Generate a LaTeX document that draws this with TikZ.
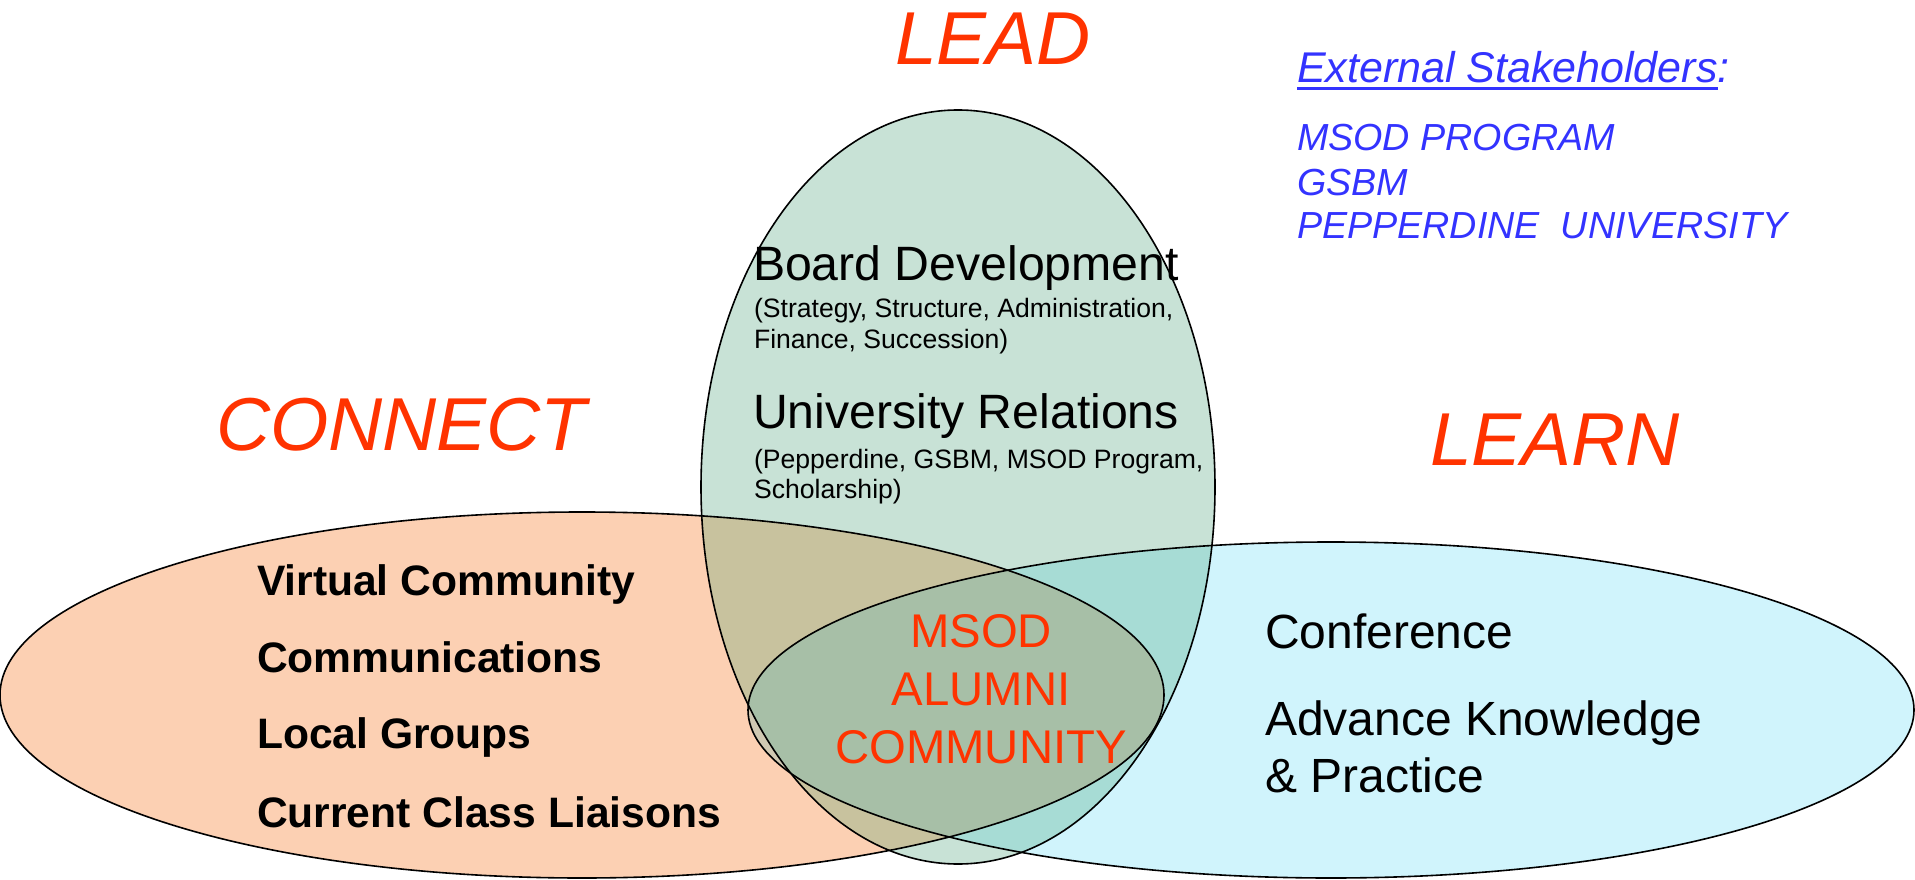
\documentclass[tikz,border=0pt]{standalone}
\usepackage{fontspec}
\setmainfont{Liberation Sans}
\definecolor{ocol}{HTML}{FCD0B3}
\definecolor{bcol}{HTML}{D0F4FC}
\definecolor{gcol}{HTML}{C8E2D6}
\definecolor{ogcol}{HTML}{C8C29E}
\definecolor{gbcol}{HTML}{A7DCD5}
\definecolor{obcol}{HTML}{D0C8B2}
\definecolor{ogbcol}{HTML}{A7BFA7}
\definecolor{lblred}{HTML}{FF3300}
\definecolor{stakeblue}{HTML}{3333FF}
\newcommand\myul[1]{\setbox0\hbox{#1}\rlap{\rule[-7.5pt]{\wd0}{3pt}}\box0}
\begin{document}
\begin{tikzpicture}[x=1pt,y=-1pt,
  outl/.style={draw=black,line width=1.6pt},
  txt/.style={inner sep=0pt,outer sep=0pt,anchor=base west},
  bigred/.style={txt,text=lblred,font=\fontsize{75}{80}\selectfont\itshape},
  head/.style={txt,font=\fontsize{48.2}{54}\selectfont},
  sub/.style={txt,font=\fontsize{26.6}{31}\selectfont},
  bolditem/.style={txt,font=\fontsize{42.6}{48}\selectfont\bfseries},
  learnitem/.style={txt,font=\fontsize{48}{54}\selectfont},
  center/.style={inner sep=0pt,outer sep=0pt,anchor=base,text=lblred,font=\fontsize{47.3}{54}\selectfont},
  stake/.style={txt,text=stakeblue,font=\fontsize{37.7}{42}\selectfont\itshape},
  stakehead/.style={txt,text=stakeblue,font=\fontsize{43}{48}\selectfont\itshape}]
\useasboundingbox (0,0) rectangle (1915,880);
% fills
\fill[ocol] (582,695) ellipse [x radius=582pt, y radius=183pt];
\fill[bcol] (1331,710) ellipse [x radius=583pt, y radius=168pt];
\fill[gcol] (958,487) ellipse [x radius=257pt, y radius=377pt];
\begin{scope}
  \clip (582,695) ellipse [x radius=582pt, y radius=183pt];
  \fill[obcol] (1331,710) ellipse [x radius=583pt, y radius=168pt];
  \fill[ogcol] (958,487) ellipse [x radius=257pt, y radius=377pt];
\end{scope}
\begin{scope}
  \clip (1331,710) ellipse [x radius=583pt, y radius=168pt];
  \fill[gbcol] (958,487) ellipse [x radius=257pt, y radius=377pt];
\end{scope}
\begin{scope}
  \clip (582,695) ellipse [x radius=582pt, y radius=183pt];
  \clip (1331,710) ellipse [x radius=583pt, y radius=168pt];
  \fill[ogbcol] (958,487) ellipse [x radius=257pt, y radius=377pt];
\end{scope}
% outlines
\draw[outl] (582,695) ellipse [x radius=582pt, y radius=183pt];
\draw[outl] (1331,710) ellipse [x radius=583pt, y radius=168pt];
\draw[outl] (958,487) ellipse [x radius=257pt, y radius=377pt];
% big labels
\node[bigred] (lead) at (895,65) {LEAD};
\node[bigred] (connect) at (216,450) {CONNECT};
\node[bigred] (learn) at (1430,465) {LEARN};
% stakeholders
\node[stakehead] (exthead) at (1297,83) {\myul{External Stakeholders}:};
\node[stake] (ext1) at (1297,151) {MSOD PROGRAM};
\node[stake] (ext2) at (1297,195) {GSBM};
\node[stake] (ext3) at (1297,238) {PEPPERDINE\ \ UNIVERSITY};
% lead
\node[head] (board) at (753,280) {Board Development};
\node[sub] (board1) at (754,317) {(Strategy, Structure, Administration,};
\node[sub] (board2) at (754,348) {Finance, Succession)};
\node[head] (univ) at (753,428) {University Relations};
\node[sub] (univ1) at (754,468) {(Pepperdine, GSBM, MSOD Program,};
\node[sub] (univ2) at (754,498) {Scholarship)};
% connect
\node[bolditem] (virt) at (257,595) {Virtual Community};
\node[bolditem] (comm) at (257,672) {Communications};
\node[bolditem] (local) at (257,748) {Local Groups};
\node[bolditem] (curr) at (257,827) {Current Class Liaisons};
% learn
\node[learnitem] (conf) at (1265,648) {Conference};
\node[learnitem] (adv1) at (1265,735) {Advance Knowledge};
\node[learnitem] (adv2) at (1265,792) {\& Practice};
% center
\node[center] (c1) at (981,647) {MSOD};
\node[center] (c2) at (981,705) {ALUMNI};
\node[center] (c3) at (981,763) {COMMUNITY};
\end{tikzpicture}
\end{document}
